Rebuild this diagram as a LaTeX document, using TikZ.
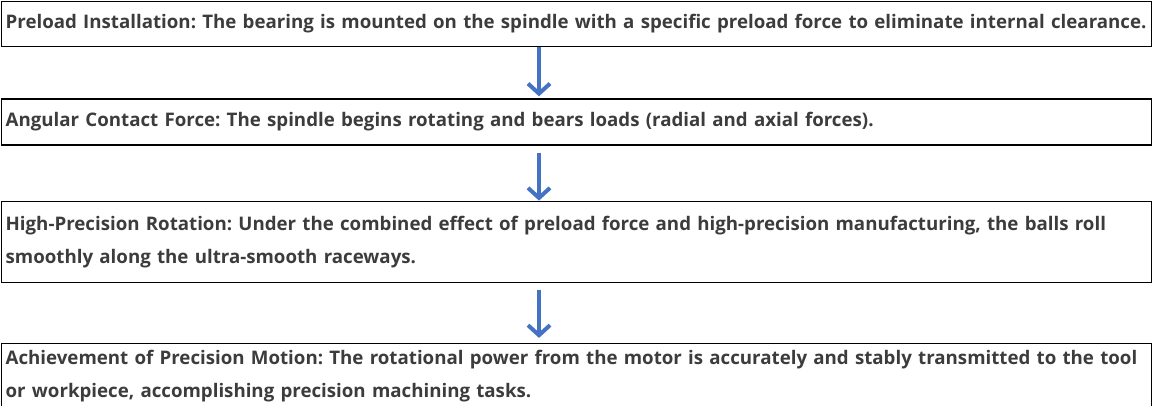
\documentclass[tikz,border=0pt]{standalone}
\usepackage{fontspec}
\setmainfont{Open Sans}
\usetikzlibrary{positioning, arrows.meta}
\definecolor{txtgray}{HTML}{3C3C3C}
\definecolor{arrowblue}{HTML}{4472C4}
\tikzstyle{stage} = [rectangle, draw = black, line width=1.3pt, text width=1142pt, inner xsep=4pt, inner ysep=0pt, align=left, text=txtgray, font=\fontsize{18.7pt}{33pt}\selectfont\bfseries\frenchspacing]
\tikzstyle{arrow} = [-{Straight Barb[length=10pt, width=22pt]}, line width=4pt, draw=arrowblue]

\begin{document}
\begin{tikzpicture}
	\useasboundingbox (0,0) rectangle (1155pt,-405pt);
	\node (install) [stage, minimum height=45.5pt, anchor=north west] at (1pt,-0.5pt) {Preload Installation: The bearing is mounted on the spindle with a specific preload force to eliminate internal clearance.};
	\node (contact) [stage, minimum height=46pt, below=51pt of install] {Angular Contact Force: The spindle begins rotating and bears loads (radial and axial forces).};
	\node (rotation) [stage, minimum height=81pt, below=55pt of contact] {High-Precision Rotation: Under the combined effect of preload force and high-precision manufacturing, the balls roll\\smoothly along the ultra-smooth raceways.};
	\node (motion) [stage, minimum height=65pt, below=60pt of rotation] {Achievement of Precision Motion: The rotational power from the motor is accurately and stably transmitted to the tool\\or workpiece, accomplishing precision machining tasks.};

	\coordinate (ax) at (539pt,0);
	\draw [arrow, shorten >=2pt] (install.south -| ax) -- (contact.north -| ax);
	\draw [arrow, shorten <=7pt, shorten >=0pt] (contact.south -| ax) -- (rotation.north -| ax);
	\draw [arrow, shorten <=7pt, shorten >=5pt] (rotation.south -| ax) -- (motion.north -| ax);
\end{tikzpicture}
\end{document}
